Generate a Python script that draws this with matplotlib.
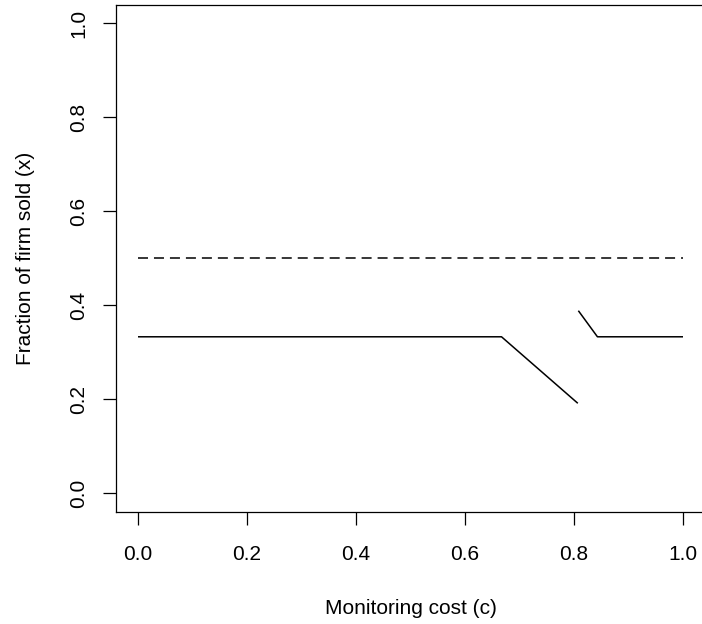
import matplotlib
matplotlib.use("Agg")
import matplotlib.pyplot as plt
import matplotlib.transforms as mtransforms

# ---- data ----
seg1_x = [0.0, 0.667, 0.807]
seg1_y = [0.333, 0.333, 0.1915]
seg2_x = [0.808, 0.843, 1.0]
seg2_y = [0.3885, 0.333, 0.333]
dash_x = [0.0, 1.0]
dash_y = [0.5, 0.5]
xticks = [0.0, 0.2, 0.4, 0.6, 0.8, 1.0]
yticks = [0.0, 0.2, 0.4, 0.6, 0.8, 1.0]
xtick_labels = ["0.0", "0.2", "0.4", "0.6", "0.8", "1.0"]
ytick_labels = ["0.0", "0.2", "0.4", "0.6", "0.8", "1.0"]
xlabel = "Monitoring cost (c)"
ylabel = "Fraction of firm sold (x)"

plt.rcParams['font.family'] = ['Liberation Sans', 'DejaVu Sans']
plt.rcParams['lines.scale_dashes'] = False

W, H = 702, 624
fig = plt.figure(figsize=(W / 100, H / 100), dpi=100)
L, R, T, B = 116.2, 704.8, 4.5, 512.1
ax = fig.add_axes([L / W, 1 - B / H, (R - L) / W, (B - T) / H])
ax.set_xlim(-0.04, 1.04)
ax.set_ylim(-0.04, 1.04)

lw = 1.1
ax.plot(seg1_x, seg1_y, color='black', lw=lw, solid_capstyle='butt')
ax.plot(seg2_x, seg2_y, color='black', lw=lw, solid_capstyle='butt')
ax.plot(dash_x, dash_y, color='black', lw=lw, dashes=(7.2, 4.3), dash_capstyle='butt')

for s in ax.spines.values():
    s.set_linewidth(0.9)
    s.set_color('black')

ax.set_xticks(xticks)
ax.set_yticks(yticks)
ax.set_xticklabels([])
ax.set_yticklabels([])
ax.tick_params(length=9.4, width=0.9, color='black', direction='out')

fs = 15
tx = mtransforms.blended_transform_factory(ax.transData, fig.transFigure)
for v, lab in zip(xticks, xtick_labels):
    ax.text(v, 1 - 560.5 / H, lab, transform=tx, ha='center', va='baseline',
            fontsize=fs, clip_on=False)
ty = mtransforms.blended_transform_factory(fig.transFigure, ax.transData)
for v, lab in zip(yticks, ytick_labels):
    ax.text(84.0 / W, v, lab, transform=ty, ha='center', va='baseline',
            rotation=90, rotation_mode='anchor', fontsize=fs, clip_on=False)

fig.text((L + R) / 2 / W, 1 - 613.5 / H, xlabel, ha='center', va='baseline', fontsize=fs)
fig.text(31 / W, 1 - (T + B) / 2 / H, ylabel, ha='center', va='baseline',
         rotation=90, rotation_mode='anchor', fontsize=fs)

fig.savefig("out.png", dpi=100, facecolor='white')
